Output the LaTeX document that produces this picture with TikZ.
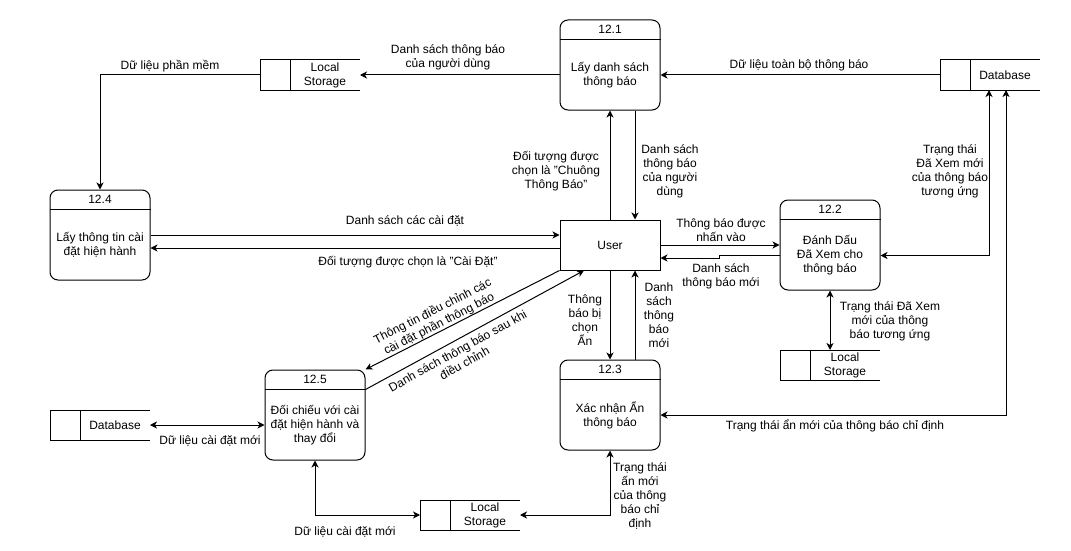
\documentclass[tikz,border=0pt]{standalone}
\usepackage{fontspec}
\setmainfont{Liberation Sans}
\usetikzlibrary{arrows.meta}

% process: name, x, y, number, text
\newcommand\dfdprocess[5]{%
  \node[procbox] (#1) at (#2,#3) {};
  \draw ([yshift=-20pt]#1.north west) -- ([yshift=-20pt]#1.north east);
  \node at ([yshift=-10pt]#1.north) {#4};
  \node at ([yshift=-10pt]#1.center) {#5};
}
% data store: name, x, y, text
\newcommand\dfdstore[4]{%
  \node[storebox] (#1) at (#2,#3) {};
  \draw (#1.north east) -- (#1.north west) -- (#1.south west) -- (#1.south east);
  \draw ([xshift=30pt]#1.north west) -- ([xshift=30pt]#1.south west);
  \node at ([xshift=15pt]#1.center) {#4};
}

\begin{document}
\begin{tikzpicture}[x=1pt,y=-1pt,line width=1pt,
  every node/.style={font=\fontsize{12}{14}\selectfont, inner sep=0pt, align=center},
  procbox/.style={draw, rounded corners=8pt, minimum width=100pt, minimum height=90pt},
  storebox/.style={minimum width=100pt, minimum height=30pt, outer sep=0pt},
  entity/.style={draw, minimum width=100pt, minimum height=50pt},
  tip/.tip={Stealth[length=7pt,width=7pt,inset=2pt]},
  flow/.style={-tip},
  biflow/.style={tip-tip}]

\fill[white] (0,0) rectangle (1071,551);
\useasboundingbox (0,0) rectangle (1071,551);

% processes
\dfdprocess{p121}{610}{65}{12.1}{Lấy danh sách\\thông báo}
\dfdprocess{p124}{100}{235}{12.4}{Lấy thông tin cài\\đặt hiện hành}
\dfdprocess{p122}{830}{245}{12.2}{Đánh Dấu\\Đã Xem cho\\thông báo}
\dfdprocess{p125}{315}{415}{12.5}{Đối chiếu với cài\\đặt hiện hành và\\thay đổi}
\dfdprocess{p123}{610}{405}{12.3}{Xác nhận Ẩn\\thông báo}

% external entity
\node[entity] (user) at (610,245) {User};

% data stores
\dfdstore{db1}{990}{75}{Database}
\dfdstore{lsA}{310}{75}{Local\\Storage}
\dfdstore{lsC}{830}{365}{Local\\Storage}
\dfdstore{dbB}{100}{425}{Database}
\dfdstore{lsB}{470}{515}{Local\\Storage}

% flows
\draw[flow] (db1.west) -- (db1.west -| p121.east);
\draw[flow] (lsA.east -| p121.west) -- (lsA.east);
\draw[flow] (lsA.west) -| (p124.north);
\draw[flow] (user.north) -- (p121.south);
\draw[flow] ([xshift=25pt]p121.south) -- ([xshift=25pt]user.north);
\draw[flow] (p124.east) -- (p124.east -| user.west);
\draw[flow] ([yshift=-3pt]user.west) -- ([yshift=-3pt]user.west -| p124.east);
\draw[flow] (user.east) -- (p122.west);
\draw[flow] ([yshift=-10.5pt]p122.west) -- ++(-60,0) -- ++(0,2.5) -- ([yshift=-13pt]user.east);
\draw[flow] (user.south) -- (p123.north);
\draw[flow] ([xshift=25pt]p123.north) -- ([xshift=25pt]user.south);
\draw[biflow] (p122.south) -- (lsC.north);
\draw[biflow] ([yshift=-10.5pt]p122.east) -| ([xshift=-1pt]db1.south);
\draw[biflow] ([yshift=-10pt]p123.east) -| ([xshift=16pt]db1.south);
\draw[biflow] (dbB.east) -- (dbB.east -| p125.west);
\draw[biflow] (p125.south) |- (lsB.west);
\draw[biflow] (p123.south) |- (lsB.east);
\draw[flow] (user.south west) -- (p125.north east);
\draw[flow] ([yshift=-20pt]p125.north east) -- ([xshift=-26pt]user.south);

% flow labels
\node at (799,65) {Dữ liệu toàn bộ thông báo};
\node at (448,57) {Danh sách thông báo\\của người dùng};
\node at (170,66) {Dữ liệu phần mềm};
\node at (556,171) {Đối tượng được\\chọn là "Chuông\\Thông Báo"};
\node at (670,171) {Danh sách\\thông báo\\của người\\dùng};
\node at (405,221) {Danh sách các cài đặt};
\node at (408,262) {Đối tượng được chọn là "Cài Đặt"};
\node at (721,230) {Thông báo được\\nhấn vào};
\node at (721,276) {Danh sách\\thông báo mới};
\node at (585,320) {Thông\\báo bị\\chọn\\Ẩn};
\node at (659,315) {Danh\\sách\\thông\\báo\\mới};
\node at (890,321) {Trạng thái Đã Xem\\mới của thông\\báo tương ứng};
\node at (950,171) {Trạng thái\\Đã Xem mới\\của thông báo\\tương ứng};
\node at (835,426) {Trạng thái ẩn mới của thông báo chỉ định};
\node at (210,441) {Dữ liệu cài đặt mới};
\node at (345,532) {Dữ liệu cài đặt mới};
\node at (640,496) {Trạng thái\\ấn mới\\của thông\\báo chỉ\\định};
\node[rotate=27] at (436,318) {Thông tin điều chỉnh các\\cài đặt phần thông báo};
\node[rotate=29] at (461,357) {Danh sách thông báo sau khi\\điều chỉnh};
\end{tikzpicture}
\end{document}
